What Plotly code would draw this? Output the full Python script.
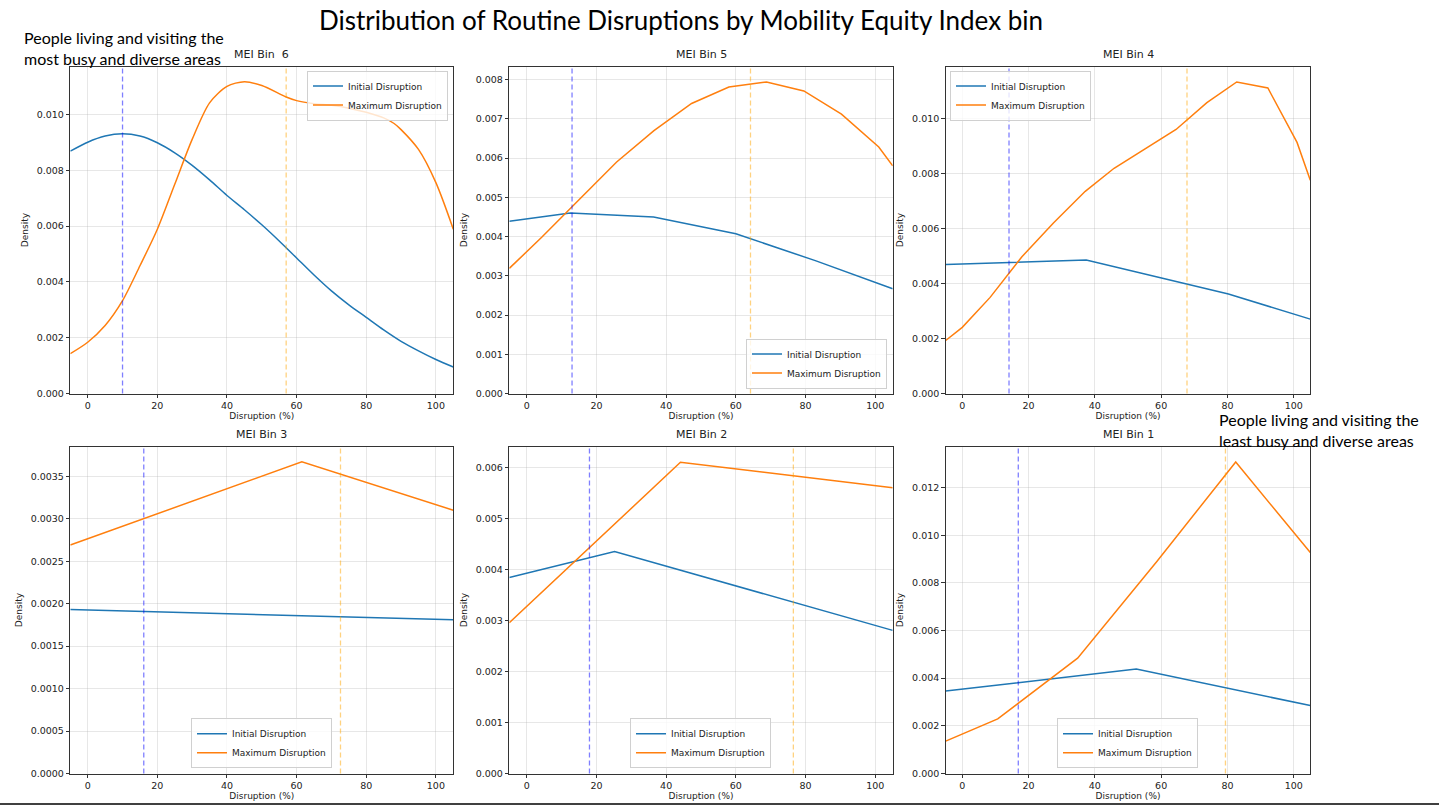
import plotly.graph_objects as go

# ---------------- data ----------------
titles = ["MEI Bin  6", "MEI Bin 5", "MEI Bin 4", "MEI Bin 3", "MEI Bin 2", "MEI Bin 1"]

bin6_init_x = [-5, 0, 5, 10, 15, 20, 25, 30, 35, 40, 45, 50, 55, 60, 65, 70, 75, 80, 85, 90, 95, 100, 105]
bin6_init_y = [0.00869, 0.00901, 0.00923, 0.00931, 0.00923, 0.00899, 0.00863, 0.00818, 0.00766, 0.00710, 0.00659, 0.00605,
               0.00547, 0.00486, 0.00425, 0.00368, 0.00318, 0.00273, 0.00228, 0.00187, 0.00153, 0.00122, 0.00095]
bin6_max_x = [-5, 0, 5, 10, 15, 20, 25, 30, 35, 40, 45, 50, 57, 60, 65, 70, 75, 80, 85, 88, 90, 95, 100, 105]
bin6_max_y = [0.00143, 0.00184, 0.00244, 0.00333, 0.00458, 0.00589, 0.00750, 0.00911, 0.01042, 0.01101, 0.01118, 0.01104,
              0.01063, 0.01050, 0.01039, 0.01033, 0.01023, 0.01008, 0.00988, 0.00968, 0.00946, 0.00875, 0.00756, 0.00589]

bin5_init_x = [-5, 12.5, 36.4, 60, 83, 105]
bin5_init_y = [0.00439, 0.00460, 0.00450, 0.00407, 0.00338, 0.00267]
bin5_max_x = [-5, 4.3, 15, 25.8, 36.5, 47.3, 58, 68.8, 79.5, 90.3, 101, 105]
bin5_max_y = [0.00319, 0.00398, 0.00494, 0.00590, 0.00670, 0.00739, 0.00781, 0.00794, 0.00771, 0.00712, 0.00628, 0.00580]

bin4_init_x = [-5, 37.4, 80.3, 105]
bin4_init_y = [0.00470, 0.00486, 0.00362, 0.00271]
bin4_max_x = [-5, 0, 8.4, 18, 27.5, 37.1, 45.8, 55.2, 64.5, 73.8, 82.8, 92.2, 101, 105]
bin4_max_y = [0.00193, 0.00241, 0.00350, 0.00498, 0.00621, 0.00736, 0.00820, 0.00890, 0.00961, 0.01059, 0.01134, 0.01112,
              0.00914, 0.00776]

bin3_init_x = [-5, 61.5, 105]
bin3_init_y = [0.00193, 0.00186, 0.00181]
bin3_max_x = [-5, 61.5, 105]
bin3_max_y = [0.00269, 0.00367, 0.00310]

bin2_init_x = [-5, 25.2, 105]
bin2_init_y = [0.00385, 0.00436, 0.00281]
bin2_max_x = [-5, 44.1, 105]
bin2_max_y = [0.00296, 0.00611, 0.00561]

bin1_init_x = [-5, 52.5, 105]
bin1_init_y = [0.00346, 0.00438, 0.00285]
bin1_max_x = [-5, 10.7, 34.8, 58.7, 82.5, 105]
bin1_max_y = [0.00136, 0.00229, 0.00484, 0.00890, 0.01307, 0.00927]

init_means = [10.0, 13.0, 14.1, 16.1, 18.0, 16.9]
max_means = [57.0, 64.2, 67.8, 72.6, 76.5, 79.4]

y_tops = [0.01172, 0.00833, 0.0119, 0.00385, 0.00642, 0.01372]
y_dticks = [0.002, 0.001, 0.002, 0.0005, 0.001, 0.002]
y_formats = [".3f", ".3f", ".3f", ".4f", ".3f", ".3f"]
x_ticks = [0, 20, 40, 60, 80, 100]
line_shapes = ["spline", "linear", "linear", "linear", "linear", "linear"]

init_series = [(bin6_init_x, bin6_init_y), (bin5_init_x, bin5_init_y), (bin4_init_x, bin4_init_y),
               (bin3_init_x, bin3_init_y), (bin2_init_x, bin2_init_y), (bin1_init_x, bin1_init_y)]
max_series = [(bin6_max_x, bin6_max_y), (bin5_max_x, bin5_max_y), (bin4_max_x, bin4_max_y),
              (bin3_max_x, bin3_max_y), (bin2_max_x, bin2_max_y), (bin1_max_x, bin1_max_y)]

# ---------------- layout ----------------
W, H = 1439, 811
col_px = [(70.3, 453.3), (509.3, 892.7), (945.7, 1310.3)]
row_px = [(67.0, 396.0), (449.3, 778.3)]

legend_pos = [
    dict(x=448 / W, y=1 - 71 / H, xanchor="right", yanchor="top"),
    dict(x=887 / W, y=1 - 391 / H, xanchor="right", yanchor="bottom"),
    dict(x=950 / W, y=1 - 71 / H, xanchor="left", yanchor="top"),
    dict(x=261.5 / W, y=1 - 773 / H, xanchor="center", yanchor="bottom"),
    dict(x=700.5 / W, y=1 - 773 / H, xanchor="center", yanchor="bottom"),
    dict(x=1127.5 / W, y=1 - 773 / H, xanchor="center", yanchor="bottom"),
]

BLUE = "#1f77b4"
ORANGE = "#ff7f0e"
FONT = "DejaVu Sans"

fig = go.Figure()
layout = dict(
    width=W, height=H, margin=dict(l=0, r=0, t=0, b=0),
    paper_bgcolor="white", plot_bgcolor="white",
    font=dict(family=FONT, color="#222", size=9),
    showlegend=True,
)
annotations = []
shapes = []

for i in range(6):
    r, c = divmod(i, 3)
    n = "" if i == 0 else str(i + 1)
    xa, ya = "x" + n, "y" + n
    x0, x1 = col_px[c]
    yt, yb = row_px[r]
    lg = "legend" if i == 0 else "legend" + str(i + 1)

    fig.add_trace(go.Scatter(x=init_series[i][0], y=init_series[i][1], mode="lines",
                             line=dict(color=BLUE, width=1.5, shape=line_shapes[i], smoothing=0.8),
                             name="Initial Disruption", xaxis=xa, yaxis=ya, legend=lg))
    fig.add_trace(go.Scatter(x=max_series[i][0], y=max_series[i][1], mode="lines",
                             line=dict(color=ORANGE, width=1.5, shape=line_shapes[i], smoothing=0.8),
                             name="Maximum Disruption", xaxis=xa, yaxis=ya, legend=lg))

    axstyle = dict(showline=True, linecolor="#333", linewidth=1, mirror=True,
                   ticks="outside", ticklen=3.5, tickcolor="#333", tickwidth=0.8,
                   showgrid=True, gridcolor="rgba(176,176,176,0.3)", gridwidth=1,
                   zeroline=False, tickfont=dict(size=9.5, family=FONT, color="#222"))
    layout["xaxis" + n] = dict(axstyle, domain=[x0 / W, x1 / W], range=[-5, 105], anchor=ya,
                               tickvals=x_ticks,
                               title=dict(text="Disruption (%)", font=dict(size=9, family=FONT), standoff=2))
    layout["yaxis" + n] = dict(axstyle, domain=[1 - yb / H, 1 - yt / H], range=[0, y_tops[i]], anchor=xa,
                               dtick=y_dticks[i], tick0=0, tickformat=y_formats[i],
                               title=dict(text="Density", font=dict(size=9, family=FONT), standoff=6))
    layout[lg] = dict(legend_pos[i], bgcolor="rgba(255,255,255,0.8)", bordercolor="#d0d0d0", borderwidth=1,
                      font=dict(size=9, family=FONT, color="#222"), tracegroupgap=0,
                      itemwidth=30)

    shapes.append(dict(type="line", xref=xa, yref=ya + " domain", x0=init_means[i], x1=init_means[i],
                       y0=0, y1=1, line=dict(color="rgba(0,0,255,0.5)", width=1.3, dash="5px,3px"), layer="above"))
    shapes.append(dict(type="line", xref=xa, yref=ya + " domain", x0=max_means[i], x1=max_means[i],
                       y0=0, y1=1, line=dict(color="rgba(255,165,0,0.5)", width=1.3, dash="5px,3px"), layer="above"))

    annotations.append(dict(text=titles[i], xref="paper", yref="paper",
                            x=(x0 + x1) / 2 / W, y=1 - (yt - 4) / H, xanchor="center", yanchor="bottom",
                            showarrow=False, font=dict(size=11, family=FONT, color="#222")))

# Figure title and side notes
annotations.append(dict(text="Distribution of Routine Disruptions by Mobility Equity Index bin",
                        xref="paper", yref="paper", x=681 / W, y=1 - 20 / H, xanchor="center", yanchor="middle",
                        showarrow=False, font=dict(size=26, family="Lato", color="black")))
annotations.append(dict(text="People living and visiting the<br>most busy and diverse areas",
                        xref="paper", yref="paper", x=22 / W, y=1 - 26 / H, xanchor="left", yanchor="top",
                        align="left", showarrow=False, font=dict(size=16, family="Lato", color="black")))
annotations.append(dict(text="People living and visiting the<br>least busy and diverse areas",
                        xref="paper", yref="paper", x=1217 / W, y=1 - 411 / H, xanchor="left", yanchor="top",
                        align="left", showarrow=False, font=dict(size=16, family="Lato", color="black")))

shapes.append(dict(type="line", xref="paper", yref="paper", x0=0, x1=1, y0=1 - 809 / H, y1=1 - 809 / H,
                   line=dict(color="black", width=1.5)))

layout["annotations"] = annotations
layout["shapes"] = shapes
fig.update_layout(**layout)

fig.write_html("out.html", config={"displayModeBar": False},
               post_script="document.body.style.margin='0';document.body.style.overflow='hidden';")
